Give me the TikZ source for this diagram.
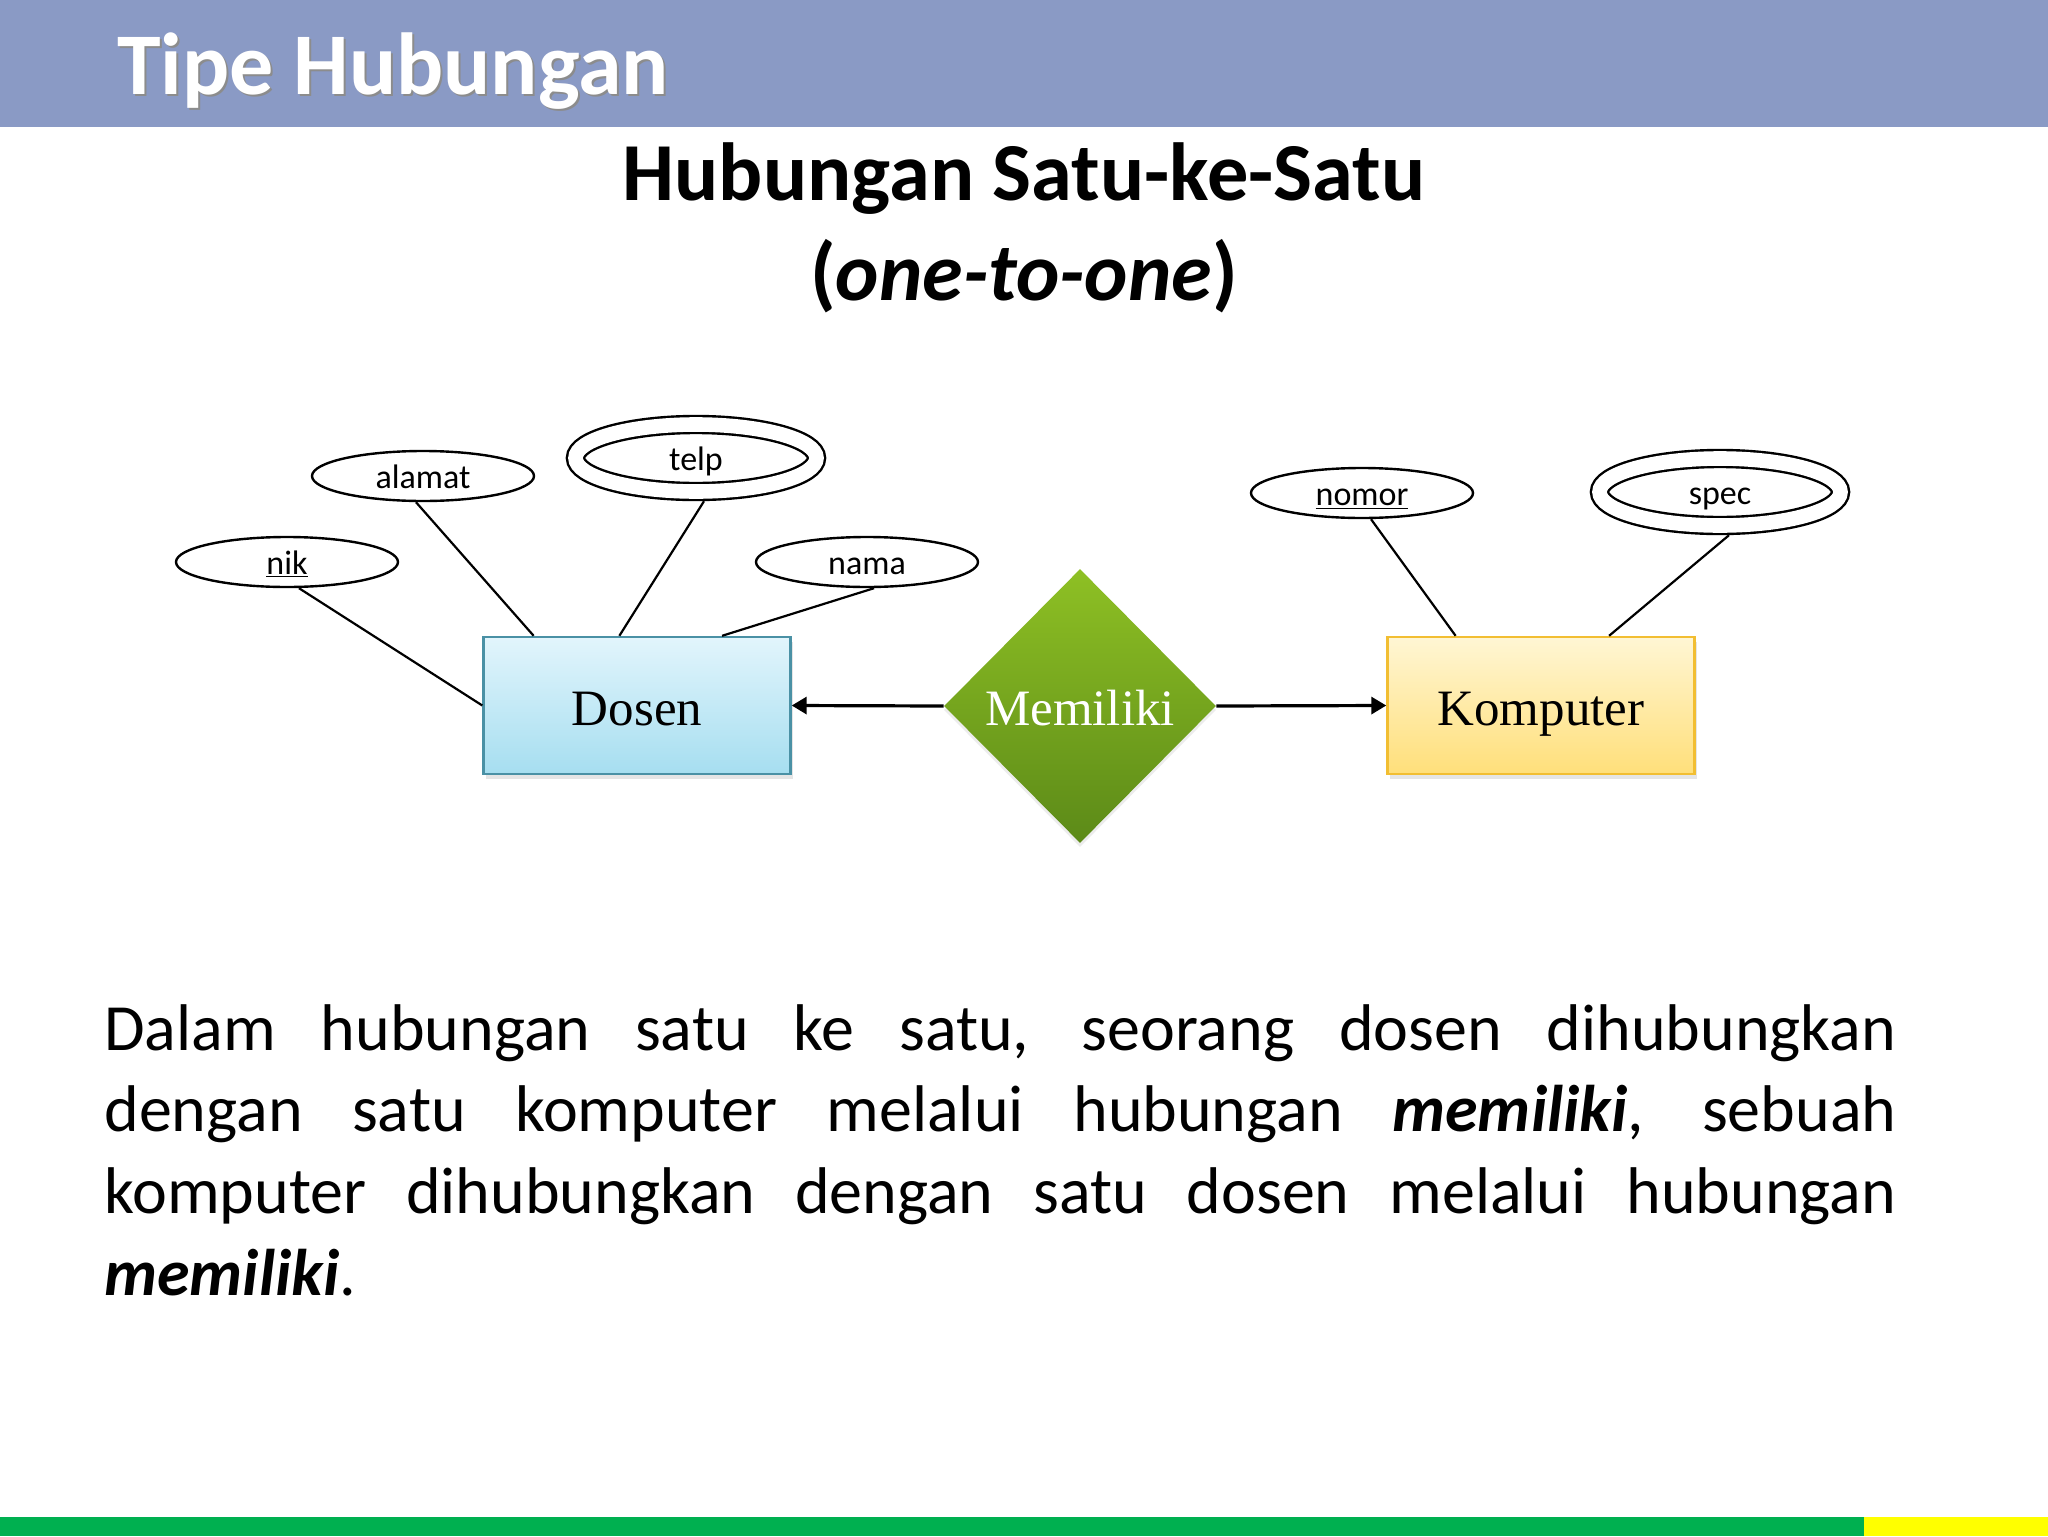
\documentclass[tikz,border=0pt]{standalone}
\usepackage{fontspec}
\setmainfont{Carlito}
\newfontfamily\entfont{Liberation Serif}
\usepackage{tikz}
\usetikzlibrary{shapes.geometric,arrows.meta,calc,shadows}

\definecolor{headblue}{RGB}{138,154,197}
\definecolor{dosentop}{RGB}{226,245,252}
\definecolor{dosenbot}{RGB}{166,222,240}
\definecolor{dosenline}{RGB}{74,145,165}
\definecolor{komptop}{RGB}{255,246,212}
\definecolor{kompbot}{RGB}{255,223,122}
\definecolor{kompline}{RGB}{242,190,50}
\definecolor{reltop}{RGB}{142,192,36}
\definecolor{relbot}{RGB}{92,138,24}
\definecolor{bargreen}{RGB}{0,176,80}
\definecolor{baryellow}{RGB}{255,255,0}

\begin{document}
\begin{tikzpicture}[x=0.5pt,y=0.5pt,
    attr/.style={ellipse,draw,line width=1.2pt,inner sep=0pt,minimum width=111pt,minimum height=25pt,
        font=\fontsize{17pt}{20pt}\selectfont,text height=12pt,text depth=0pt},
    multiattr/.style={attr,double,double distance=7.3pt,minimum width=120.5pt,minimum height=33.5pt,outer sep=4.85pt},
    entity/.style={rectangle,draw,line width=1.2pt,minimum width=153.5pt,minimum height=68.5pt,
        font=\entfont\fontsize{25.5pt}{30pt}\selectfont,text height=23pt,text depth=3.5pt,
        drop shadow={opacity=0.2,shadow xshift=1pt,shadow yshift=-2.5pt}},
    rel/.style={diamond,inner sep=0pt,minimum width=136pt,minimum height=137pt,
        top color=reltop,bottom color=relbot,text=white,
        font=\entfont\fontsize{25.5pt}{30pt}\selectfont,text height=23pt,text depth=3.5pt,
        drop shadow={opacity=0.15,shadow xshift=0pt,shadow yshift=-2pt}},
    attrline/.style={line width=1.1pt},
    relline/.style={line width=1.6pt,-{Triangle[length=7.5pt,width=8.5pt]}},
    titletext/.style={anchor=base west,font=\bfseries\fontsize{44pt}{52pt}\selectfont}]
        \useasboundingbox (0,0) rectangle (2048,-1536);
        \fill[white] (0,0) rectangle (2048,-1536);
        \fill[headblue] (0,0) rectangle (2048,-127);
        \node[titletext,text=black!45] (judulbayang) at (112,-97) {Tipe Hubungan};
        \node[titletext,text=white] (judul) at (110,-95) {Tipe Hubungan};

        \node[anchor=base,font=\bfseries\fontsize{41.2pt}{49.5pt}\selectfont] (subjudul) at (1024,-200) {Hubungan Satu-ke-Satu};
        \node[anchor=base,font=\bfseries\fontsize{41.2pt}{49.5pt}\selectfont] (subjudulb) at (1024,-300) {(\textit{one-to-one})};

        \node[entity,draw=dosenline,top color=dosentop,bottom color=dosenbot] (dosen) at (637,-705.5) {Dosen};
        \node[entity,draw=kompline,top color=komptop,bottom color=kompbot] (komputer) at (1541,-705.5) {Komputer};
        \node[rel] (memiliki) at (1080,-706) {Memiliki};

        \node[attr] (nik) at (287,-562) {\underline{nik}};
        \node[attr] (alamat) at (423,-476) {alamat};
        \node[multiattr] (telp) at (696,-458) {telp};
        \node[attr] (nama) at (867,-562) {nama};
        \node[attr] (nomor) at (1362,-493) {\underline{nomor}};
        \node[multiattr] (spec) at (1720,-492) {spec};

        \draw[attrline] ([xshift=6pt]nik.south) -- (dosen.west);
        \draw[attrline] ([xshift=-3.5pt]alamat.south) -- ($(dosen.north west)!0.166!(dosen.north east)$);
        \draw[attrline] ([xshift=4pt]telp.south) -- ($(dosen.north west)!0.443!(dosen.north east)$);
        \draw[attrline] ([xshift=3.5pt]nama.south) -- ($(dosen.north west)!0.775!(dosen.north east)$);
        \draw[attrline] ([xshift=4.5pt]nomor.south) -- ($(komputer.north west)!0.224!(komputer.north east)$);
        \draw[attrline] ([xshift=4.5pt]spec.south) -- ($(komputer.north west)!0.72!(komputer.north east)$);

        \draw[relline] (memiliki.west) -- (dosen.east);
        \draw[relline] (memiliki.east) -- (komputer.west);

        \node[anchor=base west,inner sep=0pt,text width=896pt,align=justify,
            font=\fontsize{33pt}{40.85pt}\selectfont] (keterangan) at (104,-1050)
            {Dalam hubungan satu ke satu, seorang dosen dihubungkan\linebreak
            dengan satu komputer melalui hubungan \textbf{\textit{memiliki}}, sebuah\linebreak
            komputer dihubungkan dengan satu dosen melalui hubungan\linebreak
            \textbf{\textit{memiliki}}.};

        \fill[bargreen] (0,-1517) rectangle (1864,-1536);
        \fill[baryellow] (1864,-1517) rectangle (2048,-1536);
    \end{tikzpicture}
\end{document}
